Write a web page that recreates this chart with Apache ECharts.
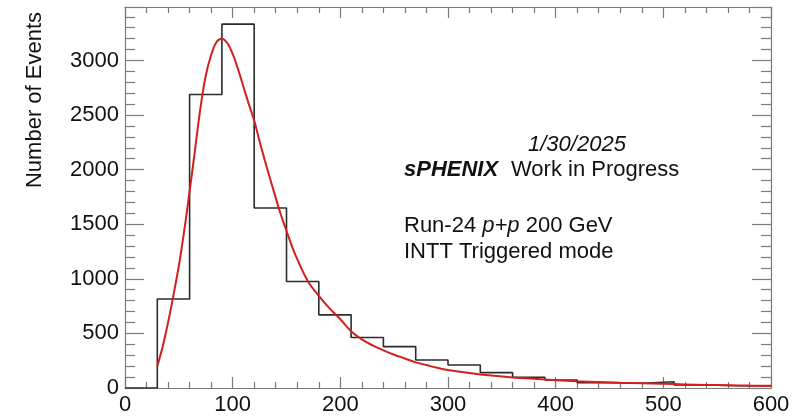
<!DOCTYPE html>
<html><head><meta charset="utf-8">
<script src="https://cdn.jsdelivr.net/npm/echarts@6/dist/echarts.min.js"></script>
<style>html,body{margin:0;padding:0;background:#fff}#c{width:800px;height:418px}</style>
</head><body><div id="c"></div>
<script>
// Histogram: bin low edges (width 30) and counts
const binLowEdges = [0,30,60,90,120,150,180,210,240,270,300,330,360,390,420,450,480,510,540,570];
const binCounts   = [0,815,2688,3333,1649,975,670,462,379,257,211,141,98,73,49,43,57,28,21,18];
const histUpperEdge = 600;

// Fit curve
const fitX = [30,35,40,45,50,55,60,65,70,75,80,85,90,95,100,105,110,115,120,125,130,135,140,145,150,155,160,170,180,190,200,210,220,230,240,250,260,270,280,290,300,320,340,360,380,400,420,440,460,480,500,520,540,560,580,600];
const fitY = [200,380,600,850,1120,1440,1800,2180,2560,2860,3050,3170,3200,3160,3060,2920,2760,2600,2450,2260,2080,1910,1740,1580,1440,1300,1180,975,845,730,630,520,445,390,345,305,270,235,210,185,165,138,115,97,85,72,62,55,48,43,38,33,28,25,22,20];

// Axes
const xTickValues = [0,100,200,300,400,500,600];
const yTickValues = [0,500,1000,1500,2000,2500,3000];
const xMin = 0, xMax = 600, yMin = 0, yMax = 3490;

const yTitle = 'Number of Events';
const dateText = '1/30/2025';

const histData = binLowEdges.map((e, i) => [e, binCounts[i]]);
histData.push([histUpperEdge, binCounts[binCounts.length - 1]]);
const fitData = fitX.map((x, i) => [x, fitY[i]]);

const FONT = '"Liberation Sans", Arial, Helvetica, sans-serif';
const frameColor = '#7a7a7a';
const textColor = '#111';

function axisCommon(isX, showLabel, vals) {
  return {
    type: 'value',
    min: isX ? xMin : yMin,
    max: isX ? xMax : yMax,
    interval: isX ? 100 : 500,
    axisLine: { show: true, onZero: false, lineStyle: { color: frameColor, width: 1.2 } },
    axisTick: { show: true, inside: true, length: isX ? 11 : 19, lineStyle: { color: frameColor, width: 1.2 } },
    minorTick: { show: true, splitNumber: 5, length: isX ? 6 : 10, lineStyle: { color: frameColor, width: 1.2 } },
    splitLine: { show: false },
    axisLabel: {
      show: showLabel,
      showMaxLabel: isX,
      margin: 6,
      fontFamily: FONT,
      fontSize: 22,
      color: textColor,
      formatter: v => (vals.indexOf(v) >= 0 ? String(v) : '')
    }
  };
}

const txt = (x, y, style) => ({ type: 'text', x, y, style: Object.assign({
  fontFamily: FONT, fontSize: 22, fill: textColor, textAlign: 'left', textVerticalAlign: 'middle' }, style) });

const chart = echarts.init(document.getElementById('c'), null, { renderer: 'canvas' });
chart.setOption({
  animation: false,
  backgroundColor: '#fff',
  grid: { left: 125, right: 29, top: 7, bottom: 30, containLabel: false },
  xAxis: [
    Object.assign(axisCommon(true, true, xTickValues), { position: 'bottom' }),
    Object.assign(axisCommon(true, false, xTickValues), { position: 'top' })
  ],
  yAxis: [
    Object.assign(axisCommon(false, true, yTickValues), { position: 'left' }),
    Object.assign(axisCommon(false, false, yTickValues), { position: 'right' })
  ],
  series: [
    {
      type: 'line', name: 'data', data: histData, step: 'end',
      xAxisIndex: 0, yAxisIndex: 0,
      showSymbol: false, symbol: 'none',
      lineStyle: { color: '#2b2b2b', width: 1.6 }, z: 2
    },
    {
      type: 'line', name: 'fit', data: fitData, smooth: 0.4,
      xAxisIndex: 0, yAxisIndex: 0,
      showSymbol: false, symbol: 'none',
      lineStyle: { color: '#d21f1f', width: 2 }, z: 3
    }
  ],
  graphic: [
    { type: 'text', x: 35, y: 100, rotation: Math.PI / 2,
      style: { text: yTitle, fontFamily: FONT, fontSize: 22, fill: textColor, textAlign: 'center', textVerticalAlign: 'middle' } },
    txt(528, 145, { text: dateText, fontStyle: 'italic' }),
    txt(404, 170, { text: 'sPHENIX', fontStyle: 'italic', fontWeight: 'bold' }),
    txt(511, 170, { text: 'Work in Progress' }),
    txt(404, 226, { text: 'Run-24 {i|p+p} 200 GeV',
      rich: { i: { fontFamily: FONT, fontSize: 22, fontStyle: 'italic', fill: textColor } } }),
    txt(404, 252, { text: 'INTT Triggered mode' })
  ]
});
</script>
</body></html>
